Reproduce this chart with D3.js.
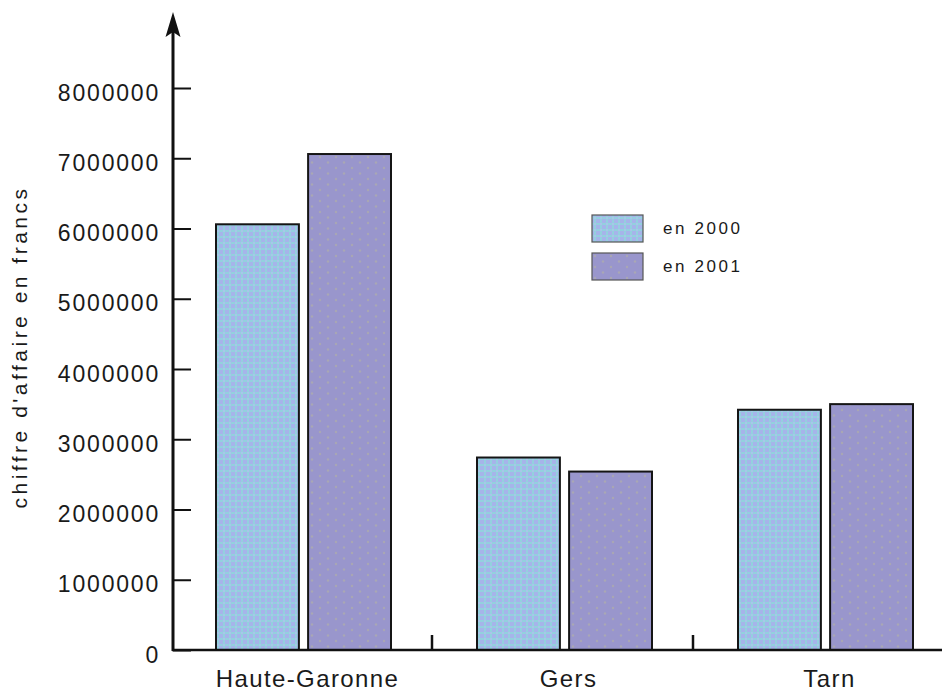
<!DOCTYPE html>
<html>
<head>
<meta charset="utf-8">
<script src="https://cdn.jsdelivr.net/npm/d3@7"></script>
<style>
  html, body { margin: 0; padding: 0; background: #fff; }
  svg { display: block; }
  text { font-family: "Liberation Sans", Arial, Helvetica, sans-serif; fill: #1a1a1a; }
</style>
</head>
<body>
<svg id="chart" width="949" height="693"></svg>
<script>
// Chiffre d'affaire par département, 2000 et 2001
const categories = ["Haute-Garonne", "Gers", "Tarn"];
const seriesNames = ["en 2000", "en 2001"];
const values2000 = [6060000, 2740000, 3420000];
const values2001 = [7060000, 2540000, 3500000];
const yTicks = [0, 1000000, 2000000, 3000000, 4000000, 5000000, 6000000, 7000000, 8000000];
const yTitle = "chiffre d'affaire en francs";

const svg = d3.select("#chart");

// Hatched fills for the two series
const defs = svg.append("defs");
const p0 = defs.append("pattern").attr("id", "fill2000")
  .attr("patternUnits", "userSpaceOnUse").attr("width", 6).attr("height", 6);
p0.append("rect").attr("width", 6).attr("height", 6).attr("fill", "#a6b4ea");
p0.append("rect").attr("x", 2).attr("y", 0).attr("width", 2).attr("height", 6).attr("fill", "#93d0de");
p0.append("rect").attr("x", 0).attr("y", 2).attr("width", 6).attr("height", 2).attr("fill", "#93d0de");
p0.append("rect").attr("x", 2).attr("y", 2).attr("width", 2).attr("height", 2).attr("fill", "#a9c4ea");

const p1 = defs.append("pattern").attr("id", "fill2001")
  .attr("patternUnits", "userSpaceOnUse").attr("width", 16).attr("height", 11);
p1.append("rect").attr("width", 16).attr("height", 11).attr("fill", "#9996cc");
p1.append("circle").attr("cx", 3).attr("cy", 3).attr("r", 1.2).attr("fill", "#a9a7b4");
p1.append("circle").attr("cx", 11).attr("cy", 8.5).attr("r", 1.2).attr("fill", "#a9a7b4");

const fills = ["url(#fill2000)", "url(#fill2001)"];

// Scales
const y = d3.scaleLinear().domain([0, 8000000]).range([650, 88]);
const x0 = d3.scaleBand().domain(categories).range([173, 956]).paddingInner(0).paddingOuter(0);
const groupWidth = 175;
const x1 = d3.scaleBand().domain(seriesNames)
  .range([(x0.bandwidth() - groupWidth) / 2, (x0.bandwidth() + groupWidth) / 2])
  .paddingInner(0.1).paddingOuter(0);

const rows = categories.map((c, i) => ({ cat: c, vals: [values2000[i], values2001[i]] }));

// Bars
const groups = svg.append("g").selectAll("g").data(rows).join("g")
  .attr("transform", d => `translate(${x0(d.cat)},0)`);
groups.selectAll("rect")
  .data(d => d.vals.map((v, j) => ({ name: seriesNames[j], v, j })))
  .join("rect")
  .attr("x", d => x1(d.name))
  .attr("y", d => y(d.v))
  .attr("width", x1.bandwidth())
  .attr("height", d => y(0) - y(d.v))
  .attr("fill", d => fills[d.j])
  .attr("stroke", "#151515")
  .attr("stroke-width", 2);

// Y axis: ticks drawn inward, labels on the left
const yAxis = d3.axisLeft(y).tickValues(yTicks).tickFormat(d3.format("d"))
  .tickSize(-18).tickPadding(13);
const gy = svg.append("g").attr("transform", "translate(173,0)").call(yAxis);
gy.select(".domain").remove();
gy.selectAll(".tick line").attr("stroke", "#111").attr("stroke-width", 2);
gy.selectAll(".tick text")
  .attr("dy", null).attr("y", 12)
  .style("font-size", "23px").style("letter-spacing", "1.8px")
  .style("font-family", "'Liberation Sans', Arial, sans-serif")
  .attr("fill", "#1a1a1a");

// Vertical axis line with arrowhead
svg.append("line").attr("x1", 173).attr("x2", 173).attr("y1", 651).attr("y2", 30)
  .attr("stroke", "#111").attr("stroke-width", 3);
svg.append("path").attr("d", "M173,12 L165.5,37 L173,32 L180.5,37 Z").attr("fill", "#111");

// X axis line and category separators
svg.append("line").attr("x1", 172).attr("x2", 942).attr("y1", 650).attr("y2", 650)
  .attr("stroke", "#111").attr("stroke-width", 2.5);
svg.append("g").selectAll("line").data(categories.slice(1)).join("line")
  .attr("x1", d => x0(d) - 2).attr("x2", d => x0(d) - 2)
  .attr("y1", 635).attr("y2", 650)
  .attr("stroke", "#111").attr("stroke-width", 2.5);

// Category labels
const xAxis = d3.axisBottom(x0).tickSize(0).tickPadding(0);
const gx = svg.append("g").attr("transform", "translate(4,650)").call(xAxis);
gx.select(".domain").remove();
gx.selectAll(".tick text")
  .attr("dy", null).attr("y", 37)
  .style("font-size", "24px").style("letter-spacing", "1.4px")
  .style("font-family", "'Liberation Sans', Arial, sans-serif")
  .attr("fill", "#1a1a1a");

// Y axis title
svg.append("text")
  .attr("transform", "translate(27,347) rotate(-90)")
  .attr("text-anchor", "middle")
  .style("font-size", "21px").style("letter-spacing", "3.5px")
  .text(yTitle);

// Legend
const legend = svg.append("g").attr("transform", "translate(592,215)");
const li = legend.selectAll("g").data(seriesNames).join("g")
  .attr("transform", (d, i) => `translate(0,${i * 38})`);
li.append("rect").attr("width", 51).attr("height", 27)
  .attr("fill", (d, i) => fills[i]).attr("stroke", "#555").attr("stroke-width", 1.2);
li.append("text").attr("x", 71).attr("y", 19)
  .style("font-size", "17px").style("letter-spacing", "2.6px")
  .text(d => d);
</script>
</body>
</html>
